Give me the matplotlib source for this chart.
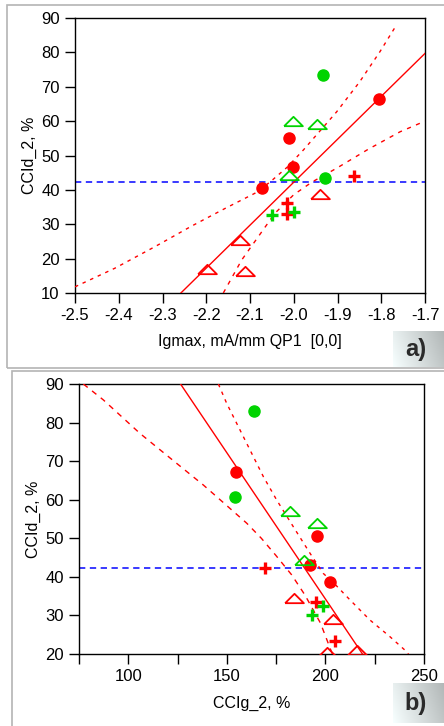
import matplotlib
matplotlib.use('Agg')
import matplotlib.pyplot as plt
import numpy as np
from matplotlib.patches import Rectangle

plt.rcParams['font.family'] = ['Liberation Sans', 'DejaVu Sans']

RED = '#ff0000'
GREEN = '#00d400'
BLUE = '#2a2aff'
HLINE = 42.3

# ---------------- panel a data ----------------
a_red_dot_x = [-1.805, -2.012, -2.001, -2.072]
a_red_dot_y = [66.5, 55.1, 46.8, 40.6]
a_green_dot_x = [-1.934, -1.929]
a_green_dot_y = [73.5, 43.5]
a_green_tri_x = [-2.001, -1.946, -2.010]
a_green_tri_y = [60.0, 59.3, 44.3]
a_red_tri_x = [-1.941, -2.124, -2.199, -2.111]
a_red_tri_y = [38.8, 25.4, 17.0, 16.4]
a_red_plus_x = [-1.862, -2.016, -2.016]
a_red_plus_y = [44.0, 36.2, 33.0]
a_green_plus_x = [-2.050, -1.999]
a_green_plus_y = [32.6, 33.6]

a_fit_x = [-2.258, -1.70]
a_fit_y = [10.0, 79.7]
a_up_x = [-2.5, -2.409, -2.317, -2.233, -2.157, -2.089, -2.054, -2.015,
          -1.978, -1.902, -1.849, -1.803, -1.765]
a_up_y = [11.8, 17.2, 23.5, 29.5, 34.6, 39.0, 42.3, 46.6,
          51.6, 62.7, 71.5, 80.2, 88.0]
a_lo_x = [-2.161, -2.119, -2.081, -2.043, -2.0, -1.958, -1.902, -1.83,
          -1.757, -1.70]
a_lo_y = [10.0, 19.6, 26.4, 33.2, 38.6, 42.3, 46.3, 51.8, 56.9, 60.0]

a_xticks = [-2.5, -2.4, -2.3, -2.2, -2.1, -2.0, -1.9, -1.8, -1.7]
a_yticks = [10, 20, 30, 40, 50, 60, 70, 80, 90]

# ---------------- panel b data ----------------
b_red_dot_x = [154.6, 195.6, 192.2, 202.3]
b_red_dot_y = [67.1, 50.5, 43.1, 38.6]
b_green_dot_x = [163.8, 154.1]
b_green_dot_y = [83.0, 60.6]
b_green_tri_x = [182.0, 195.9, 189.1]
b_green_tri_y = [57.0, 54.0, 44.3]
b_red_tri_x = [184.2, 204.0, 200.6, 215.9]
b_red_tri_y = [34.6, 29.0, 20.6, 21.0]
b_red_plus_x = [169.4, 195.2, 204.9]
b_red_plus_y = [42.3, 33.5, 23.3]
b_green_plus_x = [193.0, 198.6]
b_green_plus_y = [30.2, 32.5]

b_fit_x = [126.5, 218.8]
b_fit_y = [90.0, 20.0]
b_up_x = [145.7, 149.9, 163.4, 168.5, 175.3, 183.7, 192.2, 198.9, 205.0,
          212.5, 222.6, 232.7, 241.2, 242.1]
b_up_y = [90.0, 85.0, 71.2, 66.0, 59.9, 53.0, 46.1, 40.9, 38.0,
          34.0, 28.8, 24.5, 20.6, 20.0]
b_lo_x = [77.2, 87.3, 105.9, 124.6, 138.1, 149.9, 160.1, 167.5, 174.8,
          182.9, 189.6, 197.5, 203.5]
b_lo_y = [90.0, 85.9, 77.2, 69.4, 63.8, 58.5, 53.9, 50.0, 45.6,
          40.5, 35.3, 28.0, 20.0]

b_xticks = [75, 100, 125, 150, 175, 200, 225, 250]
b_xlabels = ['', '100', '', '150', '', '200', '', '250']
b_yticks = [20, 30, 40, 50, 60, 70, 80, 90]

# wide flat triangle marker
TRI = [(-1, -0.5), (1, -0.5), (0, 0.5), (-1, -0.5)]


def scatter_groups(ax, d):
    ax.plot(d['rdx'], d['rdy'], 'o', ms=8, color=RED, mec=RED, ls='none', zorder=4)
    ax.plot(d['gdx'], d['gdy'], 'o', ms=8, color=GREEN, mec=GREEN, ls='none', zorder=4)
    ax.plot(d['gtx'], d['gty'], marker=TRI, ms=13.5, mfc='none', mec=GREEN, mew=1.3, ls='none', zorder=4)
    ax.plot(d['rtx'], d['rty'], marker=TRI, ms=13.5, mfc='none', mec=RED, mew=1.3, ls='none', zorder=4)
    ax.plot(d['rpx'], d['rpy'], '+', ms=9, mew=2.4, color=RED, ls='none', zorder=4)
    ax.plot(d['gpx'], d['gpy'], '+', ms=9, mew=2.4, color=GREEN, ls='none', zorder=4)


def style_axes(ax):
    for s in ax.spines.values():
        s.set_linewidth(1.0)
        s.set_color('black')
    ax.tick_params(direction='out', length=7, width=1, labelsize=12, pad=4)


def label_box(fig, rect, text):
    bax = fig.add_axes(rect)
    gx = np.linspace(0, 1, 60)
    gy = np.linspace(0, 1, 30)
    X, Y = np.meshgrid(gx, gy)
    v = 1.0 - 0.22 * X - 0.06 * (1 - Y)
    img = np.dstack([v * 0.97, v, v])
    bax.imshow(np.clip(img, 0, 1), aspect='auto', extent=(0, 1, 0, 1))
    bax.set_axis_off()
    bax.text(0.45, 0.48, text, fontsize=17, fontweight='bold', color='#2a2a2a',
             ha='center', va='center', transform=bax.transAxes)


fig = plt.figure(figsize=(4.44, 7.26), dpi=100)
fig.patch.set_facecolor('white')

# panel frames
fig.add_artist(Rectangle((7 / 444, 1 - 368 / 726), 1.2, 363 / 726, transform=fig.transFigure,
                         fill=False, edgecolor='#b4b4b4', lw=1.2))
fig.add_artist(Rectangle((12 / 444, -0.1), 1.2, 0.1 + 1 - 371 / 726, transform=fig.transFigure,
                         fill=False, edgecolor='#b4b4b4', lw=1.2))

# ---------------- panel a ----------------
ax1 = fig.add_axes([75 / 444, 1 - 293 / 726, 350 / 444, 275 / 726])
ax1.plot(a_fit_x, a_fit_y, color=RED, lw=1.0, zorder=3)
ax1.plot(a_up_x, a_up_y, color=RED, lw=1.0, ls=(0, (2.5, 3.5)), zorder=3)
ax1.plot(a_lo_x, a_lo_y, color=RED, lw=1.0, ls=(0, (3, 4)), zorder=3)
ax1.axhline(HLINE, color=BLUE, lw=1.3, ls=(0, (3.5, 2.5)), zorder=2)
scatter_groups(ax1, dict(rdx=a_red_dot_x, rdy=a_red_dot_y, gdx=a_green_dot_x, gdy=a_green_dot_y,
                         gtx=a_green_tri_x, gty=a_green_tri_y, rtx=a_red_tri_x, rty=a_red_tri_y,
                         rpx=a_red_plus_x, rpy=a_red_plus_y, gpx=a_green_plus_x, gpy=a_green_plus_y))
ax1.set_xlim(-2.5, -1.7)
ax1.set_ylim(10, 90)
ax1.set_xticks(a_xticks)
ax1.set_xticklabels([f'{v:.1f}' for v in a_xticks])
ax1.set_yticks(a_yticks)
ax1.set_xlabel('Igmax, mA/mm QP1  [0,0]', fontsize=11.5, labelpad=8)
ax1.set_ylabel('CCId_2, %', fontsize=11.5, labelpad=3)
style_axes(ax1)

# ---------------- panel b ----------------
ax2 = fig.add_axes([79 / 444, 1 - 654 / 726, 345 / 444, 270 / 726])
ax2.plot(b_fit_x, b_fit_y, color=RED, lw=1.0, zorder=3)
ax2.plot(b_up_x, b_up_y, color=RED, lw=1.0, ls=(0, (2.5, 3.5)), zorder=3)
ax2.plot(b_lo_x, b_lo_y, color=RED, lw=1.0, ls=(0, (4, 4)), zorder=3)
ax2.axhline(HLINE, color=BLUE, lw=1.3, ls=(0, (3.5, 2.5)), zorder=2)
scatter_groups(ax2, dict(rdx=b_red_dot_x, rdy=b_red_dot_y, gdx=b_green_dot_x, gdy=b_green_dot_y,
                         gtx=b_green_tri_x, gty=b_green_tri_y, rtx=b_red_tri_x, rty=b_red_tri_y,
                         rpx=b_red_plus_x, rpy=b_red_plus_y, gpx=b_green_plus_x, gpy=b_green_plus_y))
ax2.set_xlim(75, 250)
ax2.set_ylim(20, 90)
ax2.set_xticks(b_xticks)
ax2.set_xticklabels(b_xlabels)
ax2.set_yticks(b_yticks)
ax2.set_xlabel('CCIg_2, %', fontsize=11.5, labelpad=8)
ax2.set_ylabel('CCId_2, %', fontsize=11.5, labelpad=3)
style_axes(ax2)

label_box(fig, [393 / 444, 1 - 367 / 726, 51 / 444, 36 / 726], 'a)')
label_box(fig, [393 / 444, 1 - 723 / 726, 51 / 444, 40 / 726], 'b)')

fig.savefig('out.png', dpi=100)
